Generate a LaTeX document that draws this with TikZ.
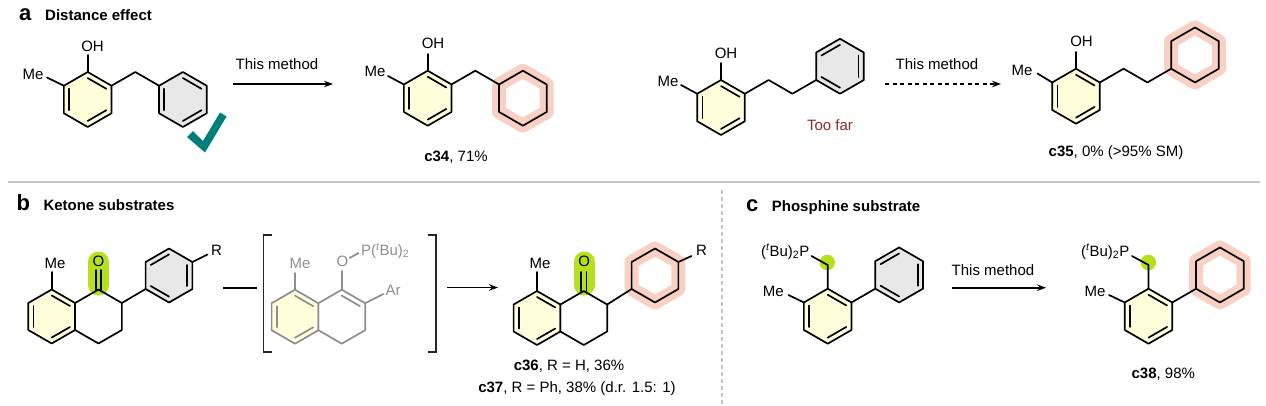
\documentclass[tikz,border=0pt]{standalone}
\usepackage{fontspec}
\setmainfont{Liberation Sans}
\usetikzlibrary{calc,arrows.meta}
\definecolor{yel}{HTML}{FFFFDB}
\definecolor{grayf}{HTML}{E8E8E8}
\definecolor{pinkh}{HTML}{F9D0C4}
\definecolor{greenh}{HTML}{B4E01E}
\definecolor{tealc}{HTML}{007F7A}
\definecolor{darkred}{HTML}{8C2A2A}
\definecolor{sepc}{HTML}{C4C4C4}
\definecolor{gline}{HTML}{8E8E8E}
\newcommand{\hexat}[4]{%
  \coordinate (#1c) at (#2,#3);
  \path (#1c) +(-90:#4) coordinate (#10) +(-30:#4) coordinate (#11) +(30:#4) coordinate (#12)
              +(90:#4) coordinate (#13) +(150:#4) coordinate (#14) +(210:#4) coordinate (#15);}
\newcommand{\hexfill}[2]{\fill[#2] (#10)--(#11)--(#12)--(#13)--(#14)--(#15)--cycle;}
\newcommand{\hexdraw}[2]{\draw[#2] (#10)--(#11)--(#12)--(#13)--(#14)--(#15)--cycle;}
\newcommand{\dbin}[4]{\draw[#4] ($(#1#2)!0.22!(#1c)$) -- ($(#1#3)!0.22!(#1c)$);}
\newcommand{\aromA}[2]{\dbin{#1}{0}{1}{#2}\dbin{#1}{2}{3}{#2}\dbin{#1}{4}{5}{#2}}
\newcommand{\aromB}[2]{\dbin{#1}{5}{0}{#2}\dbin{#1}{1}{2}{#2}\dbin{#1}{3}{4}{#2}}
\tikzset{
  bond/.style={line width=1.7pt,line join=round,line cap=round,draw=black},
  gbond/.style={bond,draw=gline},
  txt/.style={inner sep=0pt,font=\fontsize{15}{17}\selectfont},
  gtxt/.style={txt,text=gline},
  ttl/.style={inner sep=0pt,font=\bfseries\fontsize{15}{17}\selectfont},
  plab/.style={inner sep=0pt,font=\bfseries\fontsize{22}{24}\selectfont},
  halo/.style={draw=pinkh,line width=14pt,line join=round},
  ghalo/.style={draw=greenh,line width=21pt,line cap=round},
  arr/.style={line width=1.7pt,-{Stealth[length=9pt,width=6.5pt]}},
}
\begin{document}
\begin{tikzpicture}[x=1pt,y=-1pt]
\useasboundingbox (0,0) rectangle (1266,405);
% ---------------- separators
\draw[sepc,line width=1.5pt] (8,182) coordinate (s1) -- (1260,182) coordinate (s2);
\draw[sepc,line width=1.3pt,dash pattern=on 4pt off 3pt] (722,190) coordinate (s3) -- (722,405) coordinate (s4);
% ---------------- titles
\node[plab,anchor=base west] (la) at (19,20.7) {a};
\node[ttl,anchor=base west] (ta) at (45,20.7) {Distance effect};
\node[plab,anchor=base west] (lb) at (16.5,210.7) {b};
\node[ttl,anchor=base west] (tb) at (43.3,210.7) {Ketone substrates};
\node[plab,anchor=base west] (lc) at (746,211.5) {c};
\node[ttl,anchor=base west] (tc) at (771.7,211.5) {Phosphine substrate};

% ================= panel a, left substrate
\hexat{ra1}{87.7}{99.5}{27.5}
\hexat{ra2}{182.9}{99.5}{27.5}
\hexfill{ra1}{yel}\hexfill{ra2}{grayf}
\hexdraw{ra1}{bond}\aromA{ra1}{bond}
\hexdraw{ra2}{bond}\aromA{ra2}{bond}
\coordinate (a1o) at (87.7,55);
\coordinate (a1me) at (47,77.5);
\coordinate (a1ch) at (135.3,72);
\draw[bond] (ra10) -- (a1o);
\draw[bond] (ra15) -- (a1me);
\draw[bond] (ra11) -- (a1ch) -- (ra25);
\node[txt] (a1OH) at (92.5,46.5) {OH};
\node[txt] (a1Me) at (33,74) {Me};
\fill[tealc] (187,137) -- (193,131) -- (203,141) -- (220,112.5) -- (226.5,116.5) -- (205,152.5) -- cycle;
% arrow a1
\coordinate (aa1s) at (233,84);
\coordinate (aa1e) at (333,84);
\draw[arr] (aa1s) -- (aa1e);
\node[txt,anchor=base] (aa1t) at (277,69) {This method};
% c34
\hexat{rb1}{427.7}{98.2}{27.5}
\hexat{rb2}{522.9}{98.2}{27.5}
\hexfill{rb1}{yel}
\hexdraw{rb2}{halo}
\hexdraw{rb1}{bond}\aromA{rb1}{bond}
\hexdraw{rb2}{bond}
\coordinate (b1o) at (427.7,54);
\coordinate (b1me) at (388,76);
\coordinate (b1ch) at (475.3,70.7);
\draw[bond] (rb10) -- (b1o);
\draw[bond] (rb15) -- (b1me);
\draw[bond] (rb11) -- (b1ch) -- (rb25);
\node[txt] (b1OH) at (433,43.5) {OH};
\node[txt] (b1Me) at (375,71.5) {Me};
\node[txt,anchor=base] (c34) at (456,161.7) {\textbf{c34}, 71\%};

% ================= panel a, right substrate
\hexat{rc1}{721}{107.5}{27.5}
\hexat{rc2}{840}{66.25}{27.5}
\hexfill{rc1}{yel}\hexfill{rc2}{grayf}
\hexdraw{rc1}{bond}\aromA{rc1}{bond}
\hexdraw{rc2}{bond}\aromB{rc2}{bond}
\coordinate (c1o) at (721,63);
\coordinate (c1me) at (681,85);
\coordinate (c1x) at (768.6,80);
\coordinate (c1y) at (792.4,93.75);
\draw[bond] (rc10) -- (c1o);
\draw[bond] (rc15) -- (c1me);
\draw[bond] (rc11) -- (c1x) -- (c1y) -- (rc24);
\node[txt] (c1OH) at (726,53.3) {OH};
\node[txt] (c1Me) at (668,81) {Me};
\node[txt,anchor=base,text=darkred] (far) at (830,130) {Too far};
% dashed arrow
\coordinate (aa2s) at (885,84);
\coordinate (aa2e) at (1001,84);
\draw[arr,dash pattern=on 4pt off 3.5pt] (aa2s) -- (aa2e);
\node[txt,anchor=base] (aa2t) at (937,69) {This method};
% c35
\hexat{rd1}{1076}{96.2}{27.5}
\hexat{rd2}{1195}{54.95}{27.5}
\hexfill{rd1}{yel}
\hexdraw{rd2}{halo}
\hexdraw{rd1}{bond}\aromA{rd1}{bond}
\hexdraw{rd2}{bond}
\coordinate (d1o) at (1076,52);
\coordinate (d1me) at (1037.5,73.5);
\coordinate (d1x) at (1123.6,68.7);
\coordinate (d1y) at (1147.4,82.45);
\draw[bond] (rd10) -- (d1o);
\draw[bond] (rd15) -- (d1me);
\draw[bond] (rd11) -- (d1x) -- (d1y) -- (rd24);
\node[txt] (d1OH) at (1081.5,41.7) {OH};
\node[txt] (d1Me) at (1022,70) {Me};
\node[txt,anchor=base] (c35) at (1116,156.7) {\textbf{c35}, 0\% (>95\% SM)};

% ================= panel b, tetralone
\hexat{re1}{51.7}{316.5}{27}
\hexat{re2}{98.47}{316.5}{27}
\hexat{re3}{169}{275.5}{27}
\hexfill{re1}{yel}\hexfill{re3}{grayf}
\coordinate (e1o) at (98.47,270);
\coordinate (e1ot) at (98.5,262);
\coordinate (e1ob) at (98.5,285);
\draw[ghalo] (e1ot) -- (e1ob);
\hexdraw{re1}{bond}\aromA{re1}{bond}
\hexdraw{re2}{bond}
\hexdraw{re3}{bond}\aromB{re3}{bond}
\draw[bond] ($(re20)+(-2.6,0)$) -- ($(e1o)+(-2.6,0)$);
\draw[bond] ($(re20)+(2.6,0)$) -- ($(e1o)+(2.6,0)$);
\coordinate (e1me) at (51.7,272);
\coordinate (e1r) at (207.5,254.5);
\draw[bond] (re10) -- (e1me);
\draw[bond] (re21) -- (re34);
\draw[bond] (re31) -- (e1r);
\node[txt] (e1O) at (98.5,261.5) {O};
\node[txt] (e1Me) at (55,263.3) {Me};
\node[txt] (e1R) at (216.5,250) {R};
% connector to bracket
\coordinate (cb1) at (223,288);
\coordinate (cb2) at (257,288);
\draw[bond,line cap=butt] (cb1) -- (cb2);
% brackets
\coordinate (bk1) at (263.3,235);
\coordinate (bk2) at (263.3,352);
\coordinate (bk3) at (436,235);
\coordinate (bk4) at (436,352);
\draw[line width=1.6pt,draw=black!85] ($(bk1)+(8.5,0)$) -- (bk1) -- (bk2) -- ($(bk2)+(8.5,0)$);
\draw[line width=1.6pt,draw=black!85] ($(bk3)+(-8.5,0)$) -- (bk3) -- (bk4) -- ($(bk4)+(-8.5,0)$);
% intermediate
\hexat{rf1}{295}{316.7}{27}
\hexat{rf2}{341.77}{316.7}{27}
\hexfill{rf1}{yel}
\hexdraw{rf1}{gbond}\aromA{rf1}{gbond}
\hexdraw{rf2}{gbond}\dbin{rf2}{0}{1}{gbond}
\coordinate (f1me) at (295,273);
\coordinate (f1o) at (341.77,271);
\coordinate (f1p1) at (349.5,258);
\coordinate (f1p2) at (358.5,253);
\coordinate (f1ar) at (383.3,294);
\draw[gbond] (rf10) -- (f1me);
\draw[gbond] (rf20) -- (f1o);
\draw[gbond] (f1p1) -- (f1p2);
\draw[gbond] (rf21) -- (f1ar);
\node[gtxt] (f1Me) at (300,263.3) {Me};
\node[gtxt] (f1O) at (342.5,261.5) {O};
\node[gtxt,anchor=base west] (f1P) at (361,255.5) {P(\textsuperscript{\itshape t}Bu)\textsubscript{2}};
\node[gtxt] (f1Ar) at (393,290) {Ar};
% arrow b
\coordinate (ab1) at (447,287.5);
\coordinate (ab2) at (498,287.5);
\draw[arr] (ab1) -- (ab2);
% c36
\hexat{rg1}{537}{318}{27}
\hexat{rg2}{583.77}{318}{27}
\hexat{rg3}{655}{275.5}{27}
\hexfill{rg1}{yel}
\hexdraw{rg3}{halo}
\coordinate (g1o) at (583.77,272);
\coordinate (g1ot) at (584.3,262);
\coordinate (g1ob) at (584.3,285);
\draw[ghalo] (g1ot) -- (g1ob);
\hexdraw{rg1}{bond}\aromA{rg1}{bond}
\hexdraw{rg2}{bond}
\hexdraw{rg3}{bond}
\draw[bond] ($(rg20)+(-2.6,0)$) -- ($(g1o)+(-2.6,0)$);
\draw[bond] ($(rg20)+(2.6,0)$) -- ($(g1o)+(2.6,0)$);
\coordinate (g1me) at (537,272);
\coordinate (g1r) at (691.5,256);
\draw[bond] (rg10) -- (g1me);
\draw[bond] (rg21) -- (rg34);
\draw[bond] (rg31) -- (g1r);
\node[txt] (g1O) at (584.3,261.7) {O};
\node[txt] (g1Me) at (540,263.3) {Me};
\node[txt] (g1R) at (701.5,250) {R};
\node[txt,anchor=base] (c36) at (569,370) {\textbf{c36}, R = H, 36\%};
\node[txt,anchor=base] (c37) at (577,392.7) {\textbf{c37}, R = Ph, 38\% (d.r. 1.5: 1)};

% ================= panel c
\hexat{rh1}{827.7}{316.2}{27.5}
\hexat{rh2}{899.1}{274.95}{27.5}
\hexfill{rh1}{yel}\hexfill{rh2}{grayf}
\hexdraw{rh1}{bond}\aromA{rh1}{bond}
\hexdraw{rh2}{bond}\aromB{rh2}{bond}
\coordinate (h1ch) at (827.7,265);
\coordinate (h1p) at (811.5,256);
\coordinate (h1me) at (788.5,295);
\fill[greenh] (827.2,262.5) circle (7.8);
\draw[bond] (rh10) -- (h1ch) -- (h1p);
\draw[bond] (rh15) -- (h1me);
\draw[bond] (rh11) -- (rh24);
\node[txt,anchor=base east] (h1P) at (809.5,256) {(\textsuperscript{\itshape t}Bu)\textsubscript{2}P};
\node[txt] (h1Me) at (773.3,291) {Me};
% arrow c
\coordinate (ac1) at (951.7,287.7);
\coordinate (ac2) at (1046,287.7);
\draw[arr] (ac1) -- (ac2);
\node[txt,anchor=base] (act) at (993,275.7) {This method};
% c38
\hexat{ri1}{1148.5}{316.2}{27.5}
\hexat{ri2}{1219.9}{274.95}{27.5}
\hexfill{ri1}{yel}
\hexdraw{ri2}{halo}
\hexdraw{ri1}{bond}\aromA{ri1}{bond}
\hexdraw{ri2}{bond}
\coordinate (i1ch) at (1148.5,265);
\coordinate (i1p) at (1132,256);
\coordinate (i1me) at (1109,295);
\fill[greenh] (1148.3,262.5) circle (7.8);
\draw[bond] (ri10) -- (i1ch) -- (i1p);
\draw[bond] (ri15) -- (i1me);
\draw[bond] (ri11) -- (ri24);
\node[txt,anchor=base east] (i1P) at (1129.5,256) {(\textsuperscript{\itshape t}Bu)\textsubscript{2}P};
\node[txt] (i1Me) at (1095,291) {Me};
\node[txt,anchor=base] (c38) at (1163.3,378.3) {\textbf{c38}, 98\%};
\end{tikzpicture}
\end{document}
